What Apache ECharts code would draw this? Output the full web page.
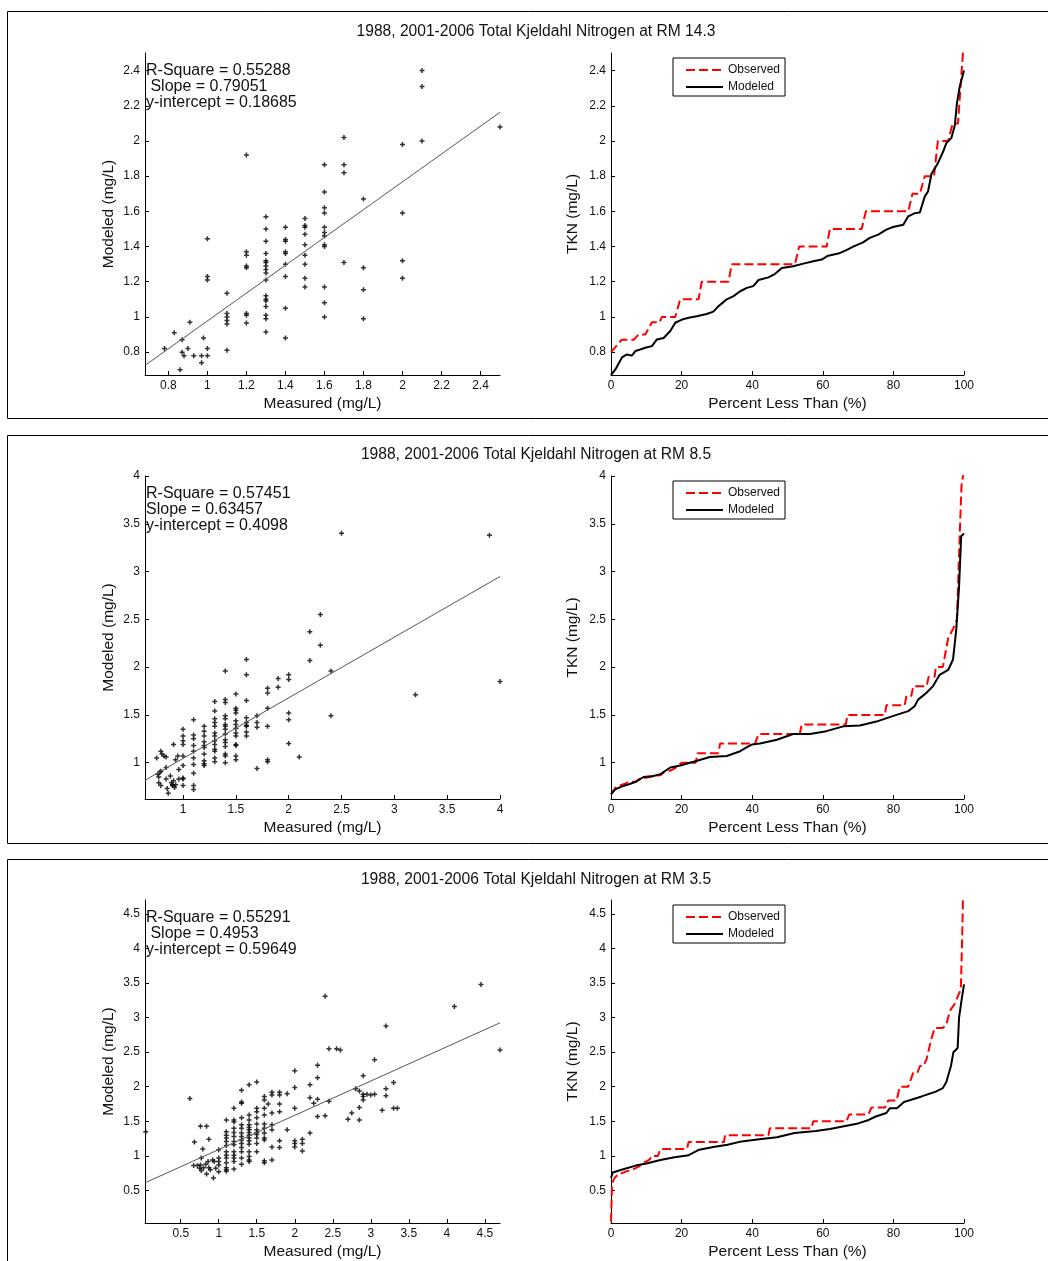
<!DOCTYPE html>
<html>
<head>
<meta charset="utf-8">
<script src="https://cdn.jsdelivr.net/npm/echarts@6/dist/echarts.min.js"></script>
<style>
html,body{margin:0;padding:0;background:#fff;}
#chart{width:1048px;height:1261px;}
</style>
</head>
<body>
<div id="chart"></div>
<script>
// ---------- DATA ----------
const titles = [
  '1988, 2001-2006 Total Kjeldahl Nitrogen at RM 14.3',
  '1988, 2001-2006 Total Kjeldahl Nitrogen at RM 8.5',
  '1988, 2001-2006 Total Kjeldahl Nitrogen at RM 3.5'
];
const rSquare = ['0.55288', '0.57451', '0.55291'];
const slopes = [0.79051, 0.63457, 0.4953];
const intercepts = [0.18685, 0.4098, 0.59649];

const xMin = [0.68, 0.64, 0.03];
const xMax = [2.5, 4, 4.7];
const yMin = [0.67, 0.62, 0.03];
const yMax = [2.5, 4, 4.7];

const ticks1 = [0.8, 1, 1.2, 1.4, 1.6, 1.8, 2, 2.2, 2.4];
const ticks2 = [1, 1.5, 2, 2.5, 3, 3.5, 4];
const ticks3 = [0.5, 1, 1.5, 2, 2.5, 3, 3.5, 4, 4.5];
const pctTicks = [0, 20, 40, 60, 80, 100];

// Scatter: [measured, modeled]
const scatter1 = [
[0.78,0.82],[0.83,0.91],[0.87,0.87],[0.87,0.80],[0.86,0.70],[0.88,0.78],[0.90,0.82],[0.91,0.97],[0.93,0.78],[0.97,0.78],[0.97,0.74],[0.98,0.88],[1.0,0.82],[1.0,0.78],[1.0,1.445],[1.0,1.23],[1.0,1.21],
[1.1,1.135],[1.1,1.02],[1.1,1.00],[1.1,0.98],[1.1,0.96],[1.1,0.81],
[1.2,1.92],[1.2,1.37],[1.2,1.35],[1.2,1.29],[1.2,1.28],[1.2,1.02],[1.2,1.01],[1.2,0.965],
[1.3,1.57],[1.3,1.50],[1.3,1.43],[1.3,1.36],[1.3,1.32],[1.3,1.31],[1.3,1.29],[1.3,1.27],[1.3,1.25],[1.3,1.21],[1.3,1.12],[1.3,1.10],[1.3,1.09],[1.3,1.06],[1.3,1.01],[1.3,0.99],[1.3,0.915],
[1.4,1.51],[1.4,1.44],[1.4,1.43],[1.4,1.37],[1.4,1.36],[1.4,1.30],[1.4,1.23],[1.4,1.05],[1.4,0.88],
[1.5,1.56],[1.5,1.52],[1.5,1.51],[1.5,1.47],[1.5,1.41],[1.5,1.35],[1.5,1.30],[1.5,1.22],[1.5,1.17],
[1.6,1.865],[1.6,1.71],[1.6,1.62],[1.6,1.59],[1.6,1.51],[1.6,1.48],[1.6,1.46],[1.6,1.41],[1.6,1.40],[1.6,1.17],[1.6,1.08],[1.6,1.00],
[1.7,2.02],[1.7,1.865],[1.7,1.82],[1.7,1.31],
[1.8,1.67],[1.8,1.28],[1.8,1.155],[1.8,0.99],
[2.0,1.98],[2.0,1.59],[2.0,1.32],[2.0,1.22],
[2.1,2.40],[2.1,2.31],[2.1,2.00],
[2.5,2.08]
];
const scatter2 = [
[0.75,1.05],[0.76,0.88],[0.77,0.85],[0.79,1.12],[0.80,1.09],[0.82,1.07],[0.84,1.06],[0.77,0.79],[0.79,0.76],[0.78,0.90],[0.79,0.91],[0.84,0.95],[0.84,0.83],[0.85,0.73],[0.86,0.68],[0.88,0.86],[0.89,0.79],[0.90,0.76],[0.90,0.77],[0.91,0.81],[0.92,0.74],[0.91,1.19],[0.93,1.03],[0.95,1.07],[0.96,0.93],[0.96,0.83],[0.93,0.77],
[1.0,1.35],[1.0,1.28],[1.0,1.23],[1.0,1.19],[1.0,1.07],[1.0,0.97],[1.0,0.84],[1.0,0.83],[1.0,0.76],
[1.1,1.45],[1.1,1.29],[1.1,1.25],[1.1,1.18],[1.1,1.12],[1.1,1.05],[1.1,0.98],[1.1,0.89],[1.1,0.76],[1.1,0.72],
[1.2,1.38],[1.2,1.33],[1.2,1.28],[1.2,1.22],[1.2,1.18],[1.2,1.16],[1.2,1.09],[1.2,1.02],[1.2,0.99],[1.2,0.97],
[1.3,1.64],[1.3,1.54],[1.3,1.46],[1.3,1.42],[1.3,1.38],[1.3,1.31],[1.3,1.28],[1.3,1.23],[1.3,1.19],[1.3,1.14],[1.3,1.12],[1.3,1.05],[1.3,1.01],
[1.4,1.96],[1.4,1.66],[1.4,1.63],[1.4,1.49],[1.4,1.46],[1.4,1.40],[1.4,1.38],[1.4,1.35],[1.4,1.30],[1.4,1.24],[1.4,1.21],[1.4,1.17],[1.4,1.09],[1.4,1.07],[1.4,1.00],
[1.5,1.72],[1.5,1.57],[1.5,1.55],[1.5,1.52],[1.5,1.44],[1.5,1.40],[1.5,1.36],[1.5,1.31],[1.5,1.28],[1.5,1.19],[1.5,1.18],[1.5,1.07],[1.5,1.03],
[1.6,2.08],[1.6,1.92],[1.6,1.65],[1.6,1.47],[1.6,1.42],[1.6,1.39],[1.6,1.38],[1.6,1.32],[1.6,1.28],
[1.7,1.49],[1.7,1.42],[1.7,1.37],[1.7,0.94],
[1.8,1.78],[1.8,1.73],[1.8,1.57],[1.8,1.38],[1.8,1.03],[1.8,1.01],
[1.9,1.88],[1.9,1.79],
[2.0,1.92],[2.0,1.87],[2.0,1.52],[2.0,1.45],[2.0,1.20],
[2.1,1.06],[2.2,2.37],[2.2,2.07],[2.3,2.55],[2.3,2.23],[2.4,1.96],[2.4,1.49],[2.5,3.40],[3.2,1.71],[3.9,3.38],[4.0,1.85]
];
const scatter3 = [
[0.04,1.35],
[0.62,1.83],[0.68,1.20],[0.67,0.86],[0.72,0.86],[0.75,0.82],[0.76,1.43],[0.77,0.97],[0.77,0.79],[0.76,0.87],[0.79,1.10],[0.80,0.83],
[0.84,1.43],[0.83,0.88],[0.84,0.74],[0.86,0.92],[0.87,1.24],[0.87,0.83],[0.89,0.80],[0.92,0.94],[0.93,0.68],[0.94,0.92],[0.96,0.82],
[1.0,1.09],[1.0,0.97],[1.0,0.92],[1.0,0.87],[1.0,0.77],
[1.1,1.52],[1.1,1.35],[1.1,1.30],[1.1,1.26],[1.1,1.21],[1.1,1.15],[1.1,1.06],[1.1,1.01],[1.1,0.97],[1.1,0.90],[1.1,0.83],[1.1,0.80],[1.1,0.78],
[1.2,1.69],[1.2,1.52],[1.2,1.49],[1.2,1.40],[1.2,1.34],[1.2,1.28],[1.2,1.21],[1.2,1.16],[1.2,1.06],[1.2,1.01],[1.2,0.97],[1.2,0.92],[1.2,0.81],
[1.3,1.95],[1.3,1.78],[1.3,1.76],[1.3,1.55],[1.3,1.45],[1.3,1.40],[1.3,1.33],[1.3,1.28],[1.3,1.23],[1.3,1.18],[1.3,1.12],[1.3,1.06],[1.3,0.97],[1.3,0.88],
[1.4,2.03],[1.4,1.59],[1.4,1.52],[1.4,1.45],[1.4,1.41],[1.4,1.38],[1.4,1.34],[1.4,1.30],[1.4,1.26],[1.4,1.22],[1.4,1.17],[1.4,1.06],[1.4,0.99],[1.4,0.94],[1.4,0.92],
[1.5,2.07],[1.5,1.69],[1.5,1.64],[1.5,1.55],[1.5,1.46],[1.5,1.38],[1.5,1.34],[1.5,1.31],[1.5,1.26],[1.5,1.18],[1.5,1.06],
[1.6,1.86],[1.6,1.81],[1.6,1.69],[1.6,1.59],[1.6,1.46],[1.6,1.40],[1.6,1.33],[1.6,1.26],[1.6,1.23],[1.6,0.93],[1.6,0.90],
[1.65,1.75],
[1.7,1.92],[1.7,1.88],[1.7,1.62],[1.7,1.45],[1.7,1.38],[1.7,1.13],[1.7,0.94],
[1.8,1.92],[1.8,1.88],[1.8,1.75],[1.8,1.64],[1.8,1.22],[1.8,1.12],
[1.9,1.90],[1.9,1.38],
[2.0,2.23],[2.0,1.99],[2.0,1.69],[2.0,1.22],[2.0,1.18],[2.0,1.13],
[2.1,1.24],[2.1,1.18],[2.1,1.07],
[2.2,2.03],[2.2,1.84],[2.2,1.33],[2.25,1.76],
[2.3,2.31],[2.3,2.13],[2.3,1.82],[2.3,1.57],
[2.4,3.31],[2.4,1.58],[2.45,2.55],[2.45,1.79],[2.55,2.55],[2.6,2.53],
[2.7,1.53],[2.75,1.62],[2.8,1.97],[2.85,1.94],[2.85,1.70],[2.85,1.52],
[2.9,2.16],[2.9,1.89],[2.9,1.86],[2.9,1.81],[2.95,1.89],[3.0,1.88],[3.05,2.39],[3.05,1.89],
[3.15,1.66],[3.2,2.88],[3.2,1.97],[3.2,1.87],[3.3,2.06],[3.3,1.69],[3.35,1.69],
[4.1,3.16],[4.45,3.48],[4.7,2.53]
];

// CDF curves: [percent less than, TKN]
const obsCdf1 = [[0,0.8],[3,0.87],[6.4,0.87],[7.8,0.9],[9.7,0.9],[11.6,0.97],[13.8,0.97],[14.4,1.0],[18.2,1.0],[19.6,1.1],[24.8,1.1],[25.7,1.2],[33.3,1.2],[34.2,1.3],[52.1,1.3],[53.3,1.4],[61.1,1.4],[62,1.5],[71,1.5],[72.2,1.6],[84.2,1.6],[85.4,1.7],[87.5,1.7],[88.9,1.8],[91.5,1.8],[92.6,2.0],[95.5,2.0],[96.8,2.1],[98.3,2.1],[99.7,2.5],[100,2.5]];
const modCdf1 = [[0,0.67],[1.2,0.70],[3.1,0.77],[4.5,0.787],[5.9,0.78],[6.9,0.806],[8.3,0.815],[9.7,0.825],[11.6,0.834],[13,0.872],[14.9,0.88],[16.8,0.92],[18.2,0.967],[20.1,0.985],[22,0.995],[24.3,1.004],[27.1,1.017],[29,1.03],[30.4,1.06],[32.8,1.10],[34.7,1.118],[36.6,1.146],[38.5,1.165],[40.3,1.175],[41.8,1.21],[44.6,1.225],[46.5,1.245],[48.4,1.278],[51.6,1.288],[54.5,1.303],[57.3,1.316],[59.7,1.326],[61.5,1.348],[64.4,1.36],[66.7,1.38],[68.6,1.40],[71.4,1.424],[73.3,1.449],[75.7,1.468],[78,1.496],[79.9,1.511],[82.8,1.524],[84.2,1.572],[86.1,1.59],[87.5,1.594],[88.9,1.685],[89.8,1.713],[90.8,1.814],[92.6,1.874],[94.1,1.94],[95,1.988],[96.4,2.016],[97.4,2.09],[98,2.215],[98.8,2.31],[100,2.40]];
const obsCdf2 = [[0,0.67],[1.5,0.75],[4,0.78],[5,0.8],[7,0.8],[8,0.83],[11,0.85],[11.5,0.87],[14,0.87],[15,0.9],[17,0.92],[18.5,0.95],[20,1.0],[24,1.0],[24.5,1.1],[30.4,1.1],[30.9,1.2],[40.8,1.2],[41.8,1.3],[53.5,1.3],[54,1.4],[66.5,1.4],[67,1.5],[77.6,1.5],[78,1.6],[83.2,1.6],[83.7,1.7],[85.1,1.7],[85.6,1.8],[89.4,1.8],[90,1.9],[91.7,1.9],[92,2.0],[94,2.0],[95.5,2.3],[96.9,2.4],[98,2.5],[98.8,3.4],[99.3,3.9],[99.7,4.0],[100,4.0]];
const modCdf2 = [[0,0.67],[1.2,0.72],[3,0.75],[5.5,0.78],[7,0.80],[9.2,0.85],[12,0.86],[14,0.88],[16.8,0.95],[19.6,0.97],[23.4,1.01],[28,1.06],[32.8,1.07],[36.6,1.12],[38.9,1.17],[39.9,1.19],[42.2,1.20],[47,1.24],[51.6,1.30],[56.4,1.30],[61,1.33],[65.8,1.38],[70.5,1.39],[75.2,1.43],[80,1.49],[84.2,1.54],[86,1.59],[87,1.66],[89.3,1.73],[91.2,1.80],[93.1,1.92],[95.5,1.97],[96.9,2.08],[97.8,2.39],[98.6,2.84],[99.2,3.37],[100,3.40]];
const obsCdf3 = [[0,0.05],[0.3,0.6],[1,0.68],[2,0.73],[4,0.77],[6,0.8],[8,0.85],[9,0.9],[10,0.92],[11,0.95],[11.5,1.0],[13.3,1.0],[14,1.1],[21.5,1.1],[22,1.2],[32,1.2],[32.3,1.3],[44.6,1.3],[45,1.4],[56.8,1.4],[57.3,1.5],[66.7,1.5],[67.5,1.6],[72.9,1.6],[73.8,1.7],[77.6,1.7],[78.5,1.8],[80.9,1.8],[81.8,2.0],[84.2,2.0],[85.6,2.2],[86.8,2.2],[87.5,2.3],[88.5,2.3],[89.4,2.4],[90.8,2.7],[91.7,2.85],[94,2.85],[95,2.9],[96,3.1],[97.4,3.2],[98.6,3.35],[99.1,3.4],[99.5,4.2],[99.7,4.7],[100,4.7]];
const modCdf3 = [[0,0.68],[0.5,0.76],[1,0.78],[3,0.80],[7,0.86],[10,0.89],[14,0.94],[18,0.98],[22,1.01],[25,1.09],[29,1.13],[33,1.16],[37,1.21],[42,1.24],[47,1.27],[52,1.33],[58,1.36],[62,1.39],[66,1.43],[70,1.47],[73,1.52],[75,1.57],[78,1.62],[79,1.69],[81,1.69],[83,1.78],[88,1.86],[92,1.93],[94,1.98],[95,2.07],[96.3,2.3],[97,2.5],[98.2,2.56],[98.6,3.0],[99.3,3.25],[100,3.48]];

// ---------- LAYOUT ----------
const FONT = '"Liberation Sans", Arial, Helvetica, sans-serif';
const TXT = '#111';
const scatterData = [scatter1, scatter2, scatter3];
const obsData = [obsCdf1, obsCdf2, obsCdf3];
const modData = [modCdf1, modCdf2, modCdf3];
const tickSets = [ticks1, ticks2, ticks3];
const gridTop = [53, 476, 900];
const gridH = [322, 323, 323];
const titleY = [32, 455, 880];
const panelTop = [11.5, 435.5, 859.5];
const panelH = [407, 408, 500];

const plusSym = 'path://M1.75,0H3.25V1.75H5V3.25H3.25V5H1.75V3.25H0V1.75H1.75Z';

const grids = [], xAxes = [], yAxes = [], series = [], legends = [], graphics = [];

function axisBase(gi, min, max, ticks, name, gap) {
  return {
    type: 'value', gridIndex: gi, min: min, max: max,
    name: name, nameLocation: 'middle', nameGap: gap,
    nameTextStyle: { fontFamily: FONT, fontSize: 15.5, color: TXT },
    axisLine: { show: true, onZero: false, lineStyle: { color: '#000', width: 1 } },
    axisTick: { show: true, inside: true, length: 4, customValues: ticks, lineStyle: { color: '#000' } },
    axisLabel: { show: true, customValues: ticks, margin: 5, fontFamily: FONT, fontSize: 12, color: TXT },
    splitLine: { show: false }
  };
}

for (let i = 0; i < 3; i++) {
  grids.push({ left: 145, top: gridTop[i], width: 355, height: gridH[i], outerBoundsMode: 'none' });
  grids.push({ left: 611, top: gridTop[i], width: 353, height: gridH[i], outerBoundsMode: 'none' });
  const gS = i * 2, gC = i * 2 + 1;
  xAxes.push(axisBase(gS, xMin[i], xMax[i], tickSets[i], 'Measured (mg/L)', 21));
  yAxes.push(axisBase(gS, yMin[i], yMax[i], tickSets[i], 'Modeled (mg/L)', 28));
  xAxes.push(axisBase(gC, 0, 100, pctTicks, 'Percent Less Than (%)', 21));
  yAxes.push(axisBase(gC, yMin[i], yMax[i], tickSets[i], 'TKN (mg/L)', 30));

  series.push({
    type: 'scatter', xAxisIndex: gS, yAxisIndex: gS, data: scatterData[i],
    symbol: plusSym, symbolSize: 5, itemStyle: { color: '#000' }, silent: true, animation: false
  });
  series.push({
    type: 'line', xAxisIndex: gS, yAxisIndex: gS, symbol: 'none', silent: true, animation: false,
    data: [[xMin[i], slopes[i] * xMin[i] + intercepts[i]], [xMax[i], slopes[i] * xMax[i] + intercepts[i]]],
    lineStyle: { color: '#555', width: 1 }
  });
  series.push({
    name: 'Observed', type: 'line', xAxisIndex: gC, yAxisIndex: gC, data: obsData[i],
    symbol: 'none', animation: false, silent: true, z: 3,
    lineStyle: { color: '#ff0000', width: 2, type: [9, 4] }, itemStyle: { color: '#ff0000' }
  });
  series.push({
    name: 'Modeled', type: 'line', xAxisIndex: gC, yAxisIndex: gC, data: modData[i],
    symbol: 'none', animation: false, silent: true, z: 4,
    lineStyle: { color: '#000', width: 2 }, itemStyle: { color: '#000' }
  });
  legends.push({
    data: ['Observed', 'Modeled'], orient: 'vertical', left: 673, top: gridTop[i] + 5,
    padding: [6, 5, 3, 12], itemGap: 5, itemWidth: 37, itemHeight: 14,
    itemStyle: { opacity: 0 },
    borderColor: '#000', borderWidth: 1, backgroundColor: '#fff', selectedMode: false,
    textStyle: { fontFamily: FONT, fontSize: 12, color: TXT }
  });

  graphics.push({
    type: 'rect', shape: { x: 7.5, y: panelTop[i], width: 1100, height: panelH[i] },
    style: { fill: 'none', stroke: '#000', lineWidth: 1 }, silent: true, z: 100
  });
  graphics.push({
    type: 'text', x: 536, y: titleY[i],
    style: { text: titles[i], font: '15.6px ' + FONT, fill: TXT, textAlign: 'center', textVerticalAlign: 'middle' }, silent: true
  });
  const ay = gridTop[i] + 18;
  const lines = ['R-Square = ' + rSquare[i], (i === 1 ? '' : ' ') + 'Slope = ' + slopes[i], 'y-intercept = ' + intercepts[i]];
  lines.forEach(function (t, k) {
    graphics.push({
      type: 'text', x: 146, y: ay + k * 15.7,
      style: { text: t, font: '16px ' + FONT, fill: TXT, textAlign: 'left', textVerticalAlign: 'middle' }, silent: true, z: 50
    });
  });
}

const chart = echarts.init(document.getElementById('chart'), null, { renderer: 'canvas' });
chart.setOption({
  animation: false,
  backgroundColor: '#fff',
  grid: grids, xAxis: xAxes, yAxis: yAxes, series: series, legend: legends, graphic: graphics
});
</script>
</body>
</html>
